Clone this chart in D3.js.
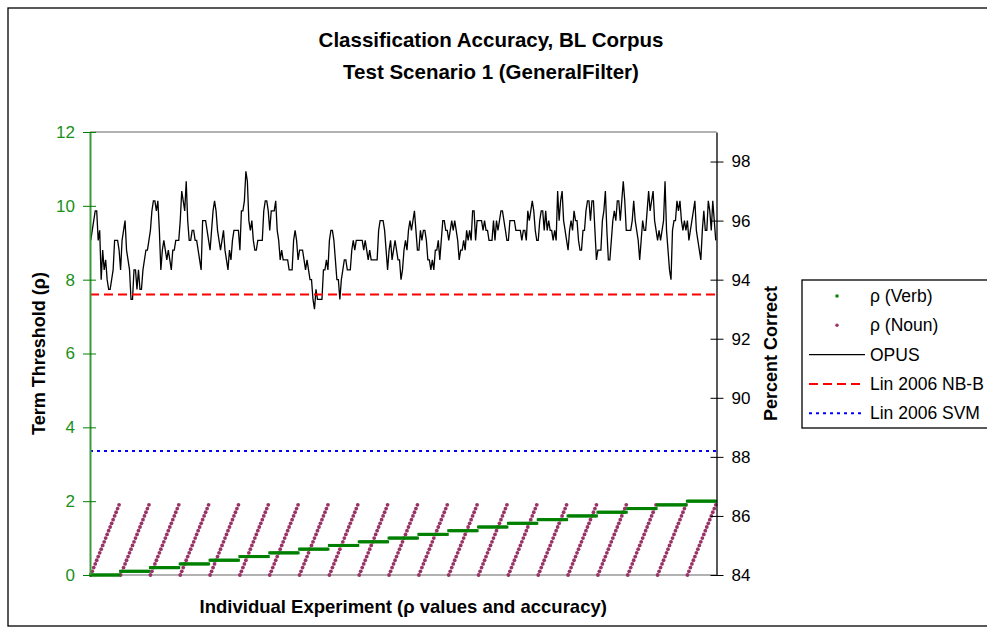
<!DOCTYPE html>
<html>
<head>
<meta charset="utf-8">
<script src="https://cdn.jsdelivr.net/npm/d3@7"></script>
<style>
  body { margin: 0; background: #fff; }
  text { font-family: "Liberation Sans", Arial, sans-serif; }
</style>
</head>
<body>
<svg id="chart"></svg>
<script>
// thresholds used in the experiment grid (21 verb levels x 20 noun levels)
const verbThresholds = [0, 0.1, 0.2, 0.3, 0.4, 0.5, 0.6, 0.7, 0.8, 0.9, 1.0,
  1.1, 1.2, 1.3, 1.4, 1.5, 1.6, 1.7, 1.8, 1.9, 2.0];
const nounThresholds = [0, 0.1, 0.2, 0.3, 0.4, 0.5, 0.6, 0.7, 0.8, 0.9,
  1.0, 1.1, 1.2, 1.3, 1.4, 1.5, 1.6, 1.7, 1.8, 1.9];

// OPUS accuracy (percent) for each experiment
const opusAccuracy = [
  95.33,95.67,96,96.33,96.33,95.33,95.67,94,95,94.33,94.67,94,93.67,93.67,94,94.33,95.33,95.33,95.33,95,
  94.33,95.33,95.67,96,95,94.67,94.33,93.33,93.33,94.33,94.33,93.67,94.33,93.67,93.67,94.33,94.67,95,95,95.33,
  95.67,96.33,96.67,96.67,96.33,96.67,95.67,94.33,95,95.33,95,94.67,95,94.67,94.33,95,95,95.33,95.33,95.33,
  96,97,96.67,96.33,97.33,96,95.33,95.33,95.67,95.67,95.33,95.33,95,94.67,94.33,96,96,96,95.67,95.33,
  95,95.67,96.33,96.67,96.33,95.67,95.33,95,95.33,95.67,95,94.67,94.33,95,94.67,95.33,95.67,95.67,95.67,95.67,
  95,96.33,96.33,96.67,97.67,97.33,96,95.67,96,95.33,95,95,95.33,95.33,95.33,95.33,96.33,96.67,96.67,96.33,
  95.67,96.33,96.33,96.33,96.67,95.67,95.33,94.67,95,94.67,94.67,94.67,94.67,94.33,94.33,94.33,95.33,95.67,95.33,94.67,
  95,95,95,94.67,94.33,94.67,94.33,94,94,93.33,93,93.67,93.33,93.33,93.33,93.33,94.33,94.33,94.67,94.33,
  95.33,95.67,95.67,95.33,94.67,94,94,93.33,94,94.33,94.67,94.67,94.33,94.33,94.33,95,95.33,95,95.33,95.33,
  95.33,95.33,95.33,95,95.33,95,94.67,95,94.67,94.67,94.67,94.67,94.67,95.67,96,96,96,95.67,95,94.33,
  95,95.33,94.67,95,95.33,95,94.67,94.67,94,94.33,95,95.33,95,95.67,96,95.67,96,96.33,95.67,95,
  95,95.67,95.33,95.67,95.67,95.33,94.67,94.67,94.33,94.67,94.33,95,95,95.33,94.67,95.33,96,96,95.67,95.67,
  95.33,95.67,96,95.67,96,95.67,95.33,94.67,95,95,95.33,95,95.67,95.33,95.67,95.33,96.33,96.33,95.33,96,
  96,96,96,95.67,96,95.67,95.67,95.33,95.33,95.33,96,95.33,96,95.67,96,96.33,96.33,96,95.67,95.33,
  95.33,96,96,96,96,95.67,95.67,95.67,95.67,95.33,95.67,95.67,95.33,96.33,96,96.33,96.67,96.33,95.67,95.33,
  95.33,96,96.33,96.33,95.67,96.33,95.67,96,95.67,95.67,95.33,95.67,95.33,97,96,96.67,97,96,95.67,95.33,
  95,95.67,96,95.67,96.33,96,96,95.33,95,95,95.67,95.67,96.33,96.67,96.67,96,96.67,96.67,95.67,94.67,
  95,95,95,96,96.33,97,95.67,94.67,94.67,95.33,96,96.33,96,96.67,96.67,96,96.67,97.33,96.67,95.67,
  95.67,95.67,95.67,96,96.67,96,95.67,95.33,94.67,95.33,96,95.67,95.67,96.33,97,96.33,96.67,97,96,95.67,
  95.33,95.67,95.33,95.67,96,97.33,95.67,95,94.33,94,95.67,96,96,96.67,96.33,96.67,96,95.67,96,95.67,
  96,95.33,95.67,96,96.33,96.67,95.67,95.33,95,94.67,95.67,96.33,95.67,95.67,96.67,96.33,95.67,96.67,96,95.33
];

// published baselines (percent)
const baselineNames = ["Lin 2006 NB-B", "Lin 2006 SVM"];
const baselineValues = [93.5, 88.2];

const leftTicks = [0, 2, 4, 6, 8, 10, 12];
const rightTicks = [84, 86, 88, 90, 92, 94, 96, 98];

// one row per experiment: verb level outer, noun level inner
const experiments = [];
verbThresholds.forEach(v => {
  nounThresholds.forEach(n => {
    experiments.push({ verb: v, noun: n, opus: opusAccuracy[experiments.length] });
  });
});

const svgWidth = 987;
const svgHeight = 634;
const plot = { left: 90, right: 716.5, top: 132, bottom: 575 };

const svg = d3.select("#chart")
  .attr("width", svgWidth)
  .attr("height", svgHeight);

// chart frame
svg.append("rect")
  .attr("x", 8).attr("y", 8)
  .attr("width", 1000).attr("height", 618)
  .attr("fill", "#fff")
  .attr("stroke", "#000")
  .attr("stroke-width", 1.3);

const xScale = d3.scalePoint()
  .domain(d3.range(experiments.length))
  .range([plot.left, plot.right])
  .padding(0.5);

const yLeft = d3.scaleLinear().domain([0, 12]).range([plot.bottom, plot.top]);
const yRight = d3.scaleLinear().domain([84, 99]).range([plot.bottom, plot.top]);

// plot area top/bottom border
svg.append("line")
  .attr("x1", plot.left).attr("x2", plot.right)
  .attr("y1", plot.top).attr("y2", plot.top)
  .attr("stroke", "#999").attr("stroke-width", 1.5);
svg.append("line")
  .attr("x1", plot.left).attr("x2", plot.right)
  .attr("y1", plot.bottom).attr("y2", plot.bottom)
  .attr("stroke", "#999").attr("stroke-width", 1.5);

// noun markers
svg.append("g").selectAll("circle")
  .data(experiments)
  .enter().append("circle")
  .attr("cx", (d, i) => xScale(i))
  .attr("cy", d => yLeft(d.noun))
  .attr("r", 1.9)
  .attr("fill", "#993366");

// verb markers
svg.append("g").selectAll("rect")
  .data(experiments)
  .enter().append("rect")
  .attr("x", (d, i) => xScale(i) - 1.5)
  .attr("y", d => yLeft(d.verb) - 1.5)
  .attr("width", 3)
  .attr("height", 3)
  .attr("fill", "#008000");

// OPUS line
const opusLine = d3.line()
  .x((d, i) => xScale(i))
  .y(d => yRight(d.opus));

svg.append("path")
  .datum(experiments)
  .attr("d", opusLine)
  .attr("fill", "none")
  .attr("stroke", "#000")
  .attr("stroke-width", 1.3)
  .attr("stroke-linejoin", "miter");

// baselines
const baselineStyles = [
  { color: "#ff0000", dash: "9,5" },
  { color: "#0000ff", dash: "3,4" }
];
baselineValues.forEach((v, i) => {
  svg.append("line")
    .attr("x1", plot.left).attr("x2", plot.right)
    .attr("y1", yRight(v)).attr("y2", yRight(v))
    .attr("stroke", baselineStyles[i].color)
    .attr("stroke-width", 2)
    .attr("stroke-dasharray", baselineStyles[i].dash);
});

// axes
const leftAxis = svg.append("g")
  .attr("transform", `translate(${plot.left},0)`)
  .call(d3.axisLeft(yLeft).tickValues(leftTicks).tickSize(6).tickPadding(9).tickSizeOuter(0));
leftAxis.select(".domain").attr("stroke", "#3c9a3c").attr("stroke-width", 2);
leftAxis.selectAll(".tick line").attr("x1", 6).attr("x2", -7).attr("stroke", "#008000");
leftAxis.selectAll(".tick text")
  .attr("fill", "#1a8f1a")
  .style("font-size", "17px")
  .style("font-family", "'Liberation Sans', Arial, sans-serif");

const rightAxis = svg.append("g")
  .attr("transform", `translate(${plot.right},0)`)
  .call(d3.axisRight(yRight).tickValues(rightTicks).tickSize(6).tickPadding(9).tickSizeOuter(0));
rightAxis.select(".domain").attr("stroke", "#000").attr("stroke-width", 1.3);
rightAxis.selectAll(".tick line").attr("x1", -6).attr("x2", 7).attr("stroke", "#000");
rightAxis.selectAll(".tick text")
  .attr("fill", "#000")
  .style("font-size", "17px")
  .style("font-family", "'Liberation Sans', Arial, sans-serif");

// titles
svg.append("text")
  .attr("x", 491).attr("y", 47)
  .attr("text-anchor", "middle")
  .style("font-size", "20.5px").style("font-weight", "bold")
  .text("Classification Accuracy, BL Corpus");
svg.append("text")
  .attr("x", 491).attr("y", 79)
  .attr("text-anchor", "middle")
  .style("font-size", "20.5px").style("font-weight", "bold")
  .text("Test Scenario 1 (GeneralFilter)");

svg.append("text")
  .attr("transform", `translate(45,${(plot.top + plot.bottom) / 2}) rotate(-90)`)
  .attr("text-anchor", "middle")
  .style("font-size", "18px").style("font-weight", "bold")
  .text("Term Threshold (ρ)");

svg.append("text")
  .attr("transform", `translate(777,${(plot.top + plot.bottom) / 2}) rotate(-90)`)
  .attr("text-anchor", "middle")
  .style("font-size", "18px").style("font-weight", "bold")
  .text("Percent Correct");

svg.append("text")
  .attr("x", (plot.left + plot.right) / 2).attr("y", 613)
  .attr("text-anchor", "middle")
  .style("font-size", "18.5px").style("font-weight", "bold")
  .text("Individual Experiment (ρ values and accuracy)");

// legend
const legend = svg.append("g").attr("transform", "translate(802,280)");
legend.append("rect")
  .attr("width", 220).attr("height", 148)
  .attr("fill", "#fff").attr("stroke", "#000").attr("stroke-width", 1.3);

const legendItems = [
  { label: "ρ (Verb)", kind: "square", color: "#008000" },
  { label: "ρ (Noun)", kind: "dot", color: "#993366" },
  { label: "OPUS", kind: "line", color: "#000", dash: null, width: 1.3 },
  { label: baselineNames[0], kind: "line", color: "#ff0000", dash: "9,5", width: 2 },
  { label: baselineNames[1], kind: "line", color: "#0000ff", dash: "3,4", width: 2 }
];

legendItems.forEach((item, i) => {
  const y = 16 + i * 29.3;
  if (item.kind === "square") {
    legend.append("rect").attr("x", 33.5).attr("y", y - 1.5)
      .attr("width", 3).attr("height", 3).attr("fill", item.color);
  } else if (item.kind === "dot") {
    legend.append("circle").attr("cx", 35).attr("cy", y)
      .attr("r", 1.7).attr("fill", item.color);
  } else {
    legend.append("line")
      .attr("x1", 7).attr("x2", 63).attr("y1", y).attr("y2", y)
      .attr("stroke", item.color).attr("stroke-width", item.width)
      .attr("stroke-dasharray", item.dash);
  }
  legend.append("text")
    .attr("x", 68).attr("y", y + 6)
    .style("font-size", "17.5px")
    .text(item.label);
});
</script>
</body>
</html>
